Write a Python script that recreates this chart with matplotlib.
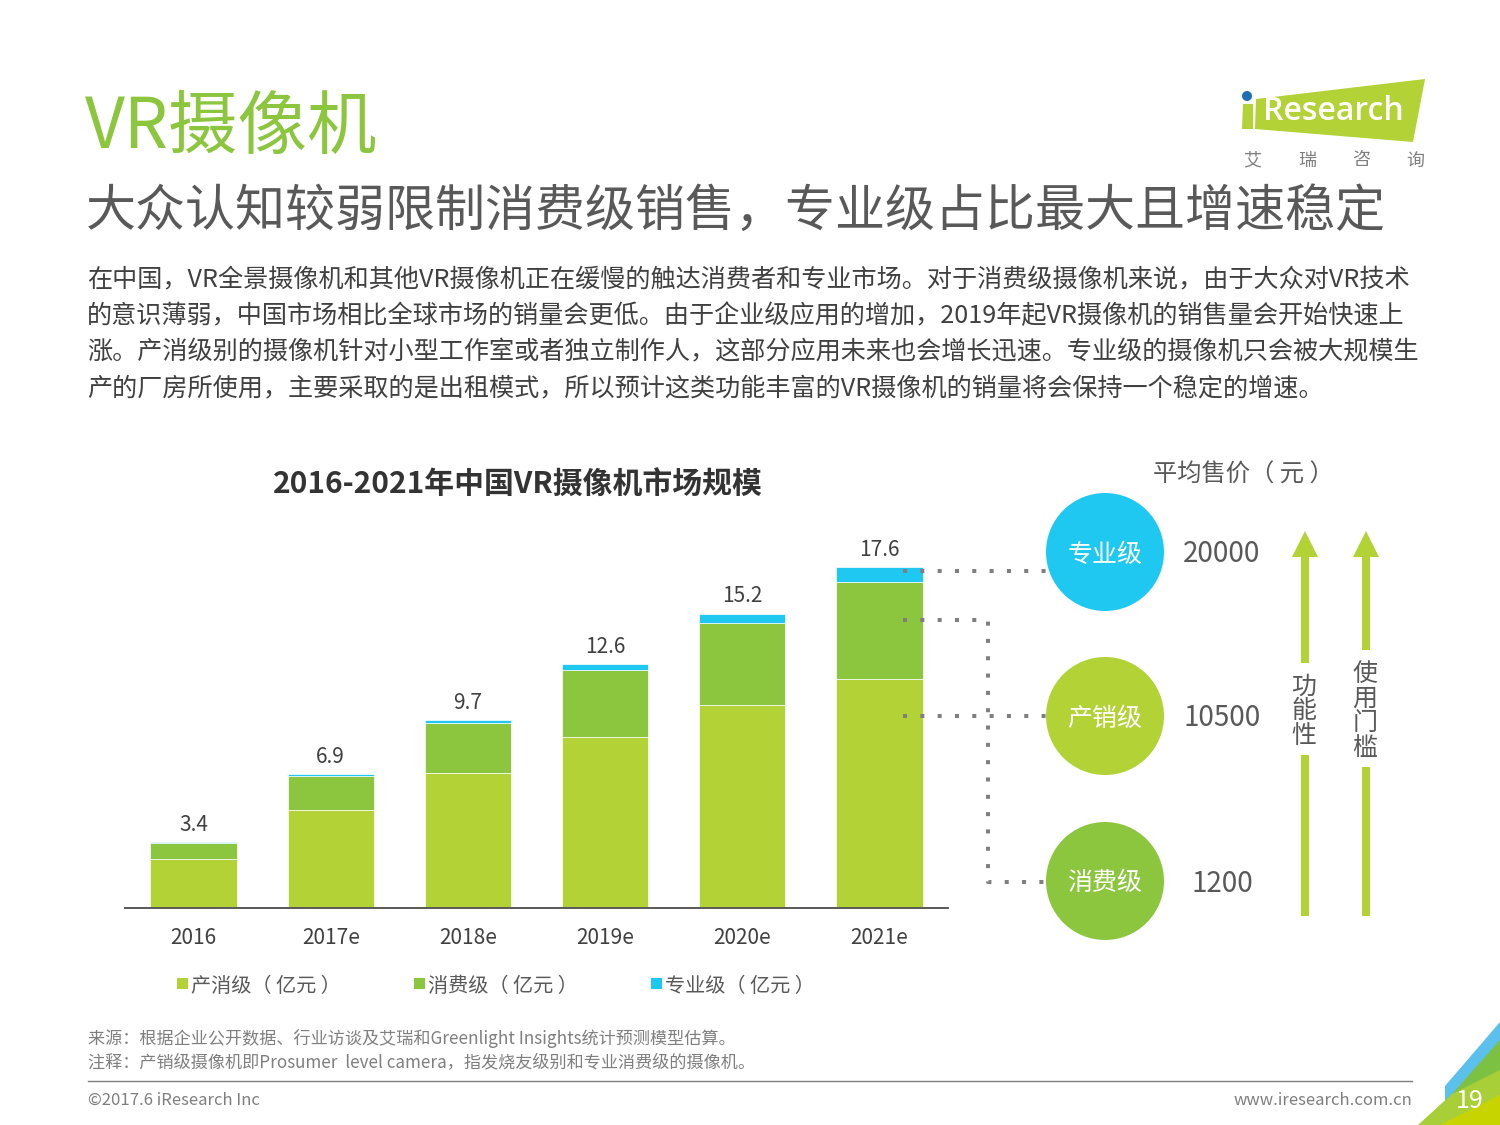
import numpy as np
import matplotlib
matplotlib.use("Agg")
import matplotlib.pyplot as plt
from matplotlib.patches import Circle, Polygon, Rectangle

plt.rcParams['font.family'] = ['Noto Sans CJK SC', 'DejaVu Sans']

LIME = "#b2d235"
GREEN = "#8cc63f"
CYAN = "#1fc8f0"
DARK = "#404040"
GREY = "#595959"
LIGHT = "#7f7f7f"

# chart data (亿元)
years = ["2016", "2017e", "2018e", "2019e", "2020e", "2021e"]
prosumer = [2.52, 5.05, 6.97, 8.85, 10.46, 11.80]
consumer = [0.83, 1.78, 2.57, 3.45, 4.24, 5.04]
professional = [0.05, 0.07, 0.16, 0.30, 0.50, 0.76]
totals = [3.4, 6.9, 9.7, 12.6, 15.2, 17.6]
series_names = ["产消级（ 亿元 ）", "消费级（ 亿元 ）", "专业级（ 亿元 ）"]

# price tiers on the right
tier_names = ["专业级", "产销级", "消费级"]
tier_prices = ["20000", "10500", "1200"]
tier_colors = [CYAN, LIME, GREEN]

title = "VR摄像机"
subtitle = "大众认知较弱限制消费级销售，专业级占比最大且增速稳定"
body_lines = [
    "在中国，VR全景摄像机和其他VR摄像机正在缓慢的触达消费者和专业市场。对于消费级摄像机来说，由于大众对VR技术",
    "的意识薄弱，中国市场相比全球市场的销量会更低。由于企业级应用的增加，2019年起VR摄像机的销售量会开始快速上",
    "涨。产消级别的摄像机针对小型工作室或者独立制作人，这部分应用未来也会增长迅速。专业级的摄像机只会被大规模生",
    "产的厂房所使用，主要采取的是出租模式，所以预计这类功能丰富的VR摄像机的销量将会保持一个稳定的增速。",
]
chart_title = "2016-2021年中国VR摄像机市场规模"
source_note = "来源：根据企业公开数据、行业访谈及艾瑞和Greenlight Insights统计预测模型估算。"
remark_note = "注释：产销级摄像机即Prosumer  level camera，指发烧友级别和专业消费级的摄像机。"

fig = plt.figure(figsize=(15, 11.25), dpi=100)
fig.patch.set_facecolor("white")

# ---- bar chart -------------------------------------------------------
ax = fig.add_axes([125 / 1500, (1125 - 908) / 1125, 823 / 1500, 368 / 1125], zorder=1)
x = np.arange(len(years))
w = 0.63
b1 = np.array(prosumer)
b2 = b1 + np.array(consumer)
ax.bar(x, prosumer, w, color=LIME, edgecolor="white", linewidth=0.5)
ax.bar(x, consumer, w, bottom=b1, color=GREEN, edgecolor="white", linewidth=0.5)
ax.bar(x, professional, w, bottom=b2, color=CYAN, edgecolor="white", linewidth=0.5)
for i, t in enumerate(totals):
    ax.annotate(f"{t}", (i, t), xytext=(0, 12.5), textcoords="offset points",
                ha="center", va="center", fontsize=15, color=DARK)
ax.set_xlim(-0.5, 5.5)
ax.set_ylim(0, 19)
ax.set_xticks(x)
ax.set_xticklabels(years, fontsize=15, color=DARK)
ax.tick_params(axis="x", length=0, pad=14)
ax.set_yticks([])
for s in ["top", "left", "right"]:
    ax.spines[s].set_visible(False)
ax.spines["bottom"].set_color(GREY)
ax.spines["bottom"].set_linewidth(1.4)
ax.patch.set_alpha(0)

# ---- overlay in pixel coordinates -----------------------------------
ov = fig.add_axes([0, 0, 1, 1], zorder=5)
ov.set_xlim(0, 1500)
ov.set_ylim(1125, 0)
ov.axis("off")
ov.patch.set_alpha(0)


def txt(x0, y0, s, size, color=DARK, ha="left", va="center", **kw):
    # CJK glyphs sit a little high with va=center, nudge down
    ov.text(x0, y0 + 2.5, s, fontsize=size, color=color, ha=ha, va=va, **kw)


txt(85, 126, title, 50, GREEN)
txt(86, 209, subtitle, 36, GREY)
for k, line in enumerate(body_lines):
    txt(87, 278 + 36 * k, line, 18.1, DARK)
txt(518, 482, chart_title, 21.5, "#333333", ha="center", weight="bold")

# legend
legend_x = [177, 414, 651]
for lx, name, c in zip(legend_x, series_names, [LIME, GREEN, CYAN]):
    ov.add_patch(Rectangle((lx, 978), 11, 11, color=c, lw=0))
    txt(lx + 14, 984, name, 14.5, GREY)

# logo
ov.add_patch(Polygon([(1256, 99), (1425, 79), (1413, 142), (1255, 129)],
                     closed=True, color=LIME, lw=0))
ov.add_patch(Polygon([(1243, 104), (1253, 104), (1253, 129), (1242, 129)],
                     closed=True, color=LIME, lw=0))
ov.add_patch(Circle((1247, 96), 5, color="#1f6fb5", lw=0))
ov.text(1263, 112, "Research", fontsize=23, color="white", ha="left", va="center",
        weight="semibold", family=["Open Sans", "DejaVu Sans"])
for cx, ch in zip([1252, 1307, 1361, 1415], "艾瑞咨询"):
    txt(cx, 158, ch, 13, LIGHT, ha="center")

# right side: tiers
txt(1243, 472, "平均售价（ 元 ）", 17.5, GREY, ha="center")
tier_y = [552, 716, 881]
for ty, name, price, c in zip(tier_y, tier_names, tier_prices, tier_colors):
    ov.add_patch(Circle((1105, ty), 59, color=c, lw=0))
    txt(1105, ty, name, 18, "white", ha="center")
    txt(1222, ty, price, 20, GREY, ha="center")

# dotted connectors
dot = dict(color=LIGHT, lw=2.9, linestyle=(0, (1, 3.3)), dash_capstyle="butt")
ov.plot([903, 1055], [571, 571], **dot)
ov.plot([903, 988, 988, 1045], [620, 620, 882, 882], **dot)
ov.plot([903, 1058], [716, 716], **dot)

# arrows
for ax_x, gap_top, gap_bot, label in [(1305, 663, 755, "功能性"), (1366, 650, 767, "使用门槛")]:
    ov.add_patch(Rectangle((ax_x - 4, 556), 8, gap_top - 556, color=LIME, lw=0))
    ov.add_patch(Rectangle((ax_x - 4, gap_bot), 8, 916 - gap_bot, color=LIME, lw=0))
    ov.add_patch(Polygon([(ax_x - 13, 557), (ax_x + 13, 557), (ax_x, 531)],
                         closed=True, color=LIME, lw=0))
    n = len(label)
    pitch = 24.5
    y0 = (gap_top + gap_bot) / 2 - pitch * (n - 1) / 2
    for j, ch in enumerate(label):
        txt(ax_x - 1, y0 + j * pitch, ch, 18, GREY, ha="center")

# footer
txt(88, 1036, source_note, 12.3, LIGHT)
txt(88, 1060, remark_note, 12.3, LIGHT)
ov.plot([88, 1412], [1081, 1081], color=LIGHT, lw=1)
txt(88, 1098, "©2017.6 iResearch Inc", 12, LIGHT)
txt(1412, 1098, "www.iresearch.com.cn", 12, LIGHT, ha="right")

# page corner
ov.add_patch(Polygon([(1445, 1086), (1500, 1022), (1500, 1125), (1445, 1125)],
                     closed=True, color="#5bc0eb", lw=0))
ov.add_patch(Polygon([(1452, 1094), (1500, 1040), (1500, 1125), (1420, 1125)],
                     closed=True, color="#7dc142", lw=0))
ov.add_patch(Polygon([(1418, 1125), (1452, 1094), (1500, 1070), (1500, 1125)],
                     closed=True, color="#a8cf38", lw=0))
ov.add_patch(Polygon([(1440, 1125), (1500, 1095), (1500, 1125)],
                     closed=True, color="#c8d400", lw=0))
txt(1470, 1098, "19", 18, "white", ha="center")

fig.savefig("out.png", dpi=100)
